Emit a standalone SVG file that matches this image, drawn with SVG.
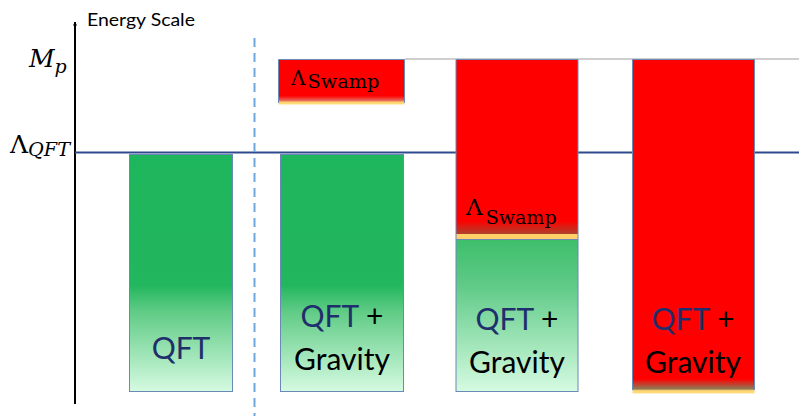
<svg xmlns="http://www.w3.org/2000/svg" width="799" height="416" viewBox="0 0 799 416">
<defs>
<linearGradient id="g1" x1="0" y1="154" x2="0" y2="392" gradientUnits="userSpaceOnUse">
<stop offset="0" stop-color="#1EB65C"/>
<stop offset="0.55" stop-color="#22B65E"/>
<stop offset="0.66" stop-color="#5FCB85"/>
<stop offset="1" stop-color="#D6FBE2"/>
</linearGradient>
<linearGradient id="g3" x1="0" y1="238" x2="0" y2="392" gradientUnits="userSpaceOnUse">
<stop offset="0" stop-color="#3DBE6A"/>
<stop offset="0.3" stop-color="#5ECA86"/>
<stop offset="1" stop-color="#D6FBE2"/>
</linearGradient>
<linearGradient id="r2" x1="0" y1="59" x2="0" y2="105" gradientUnits="userSpaceOnUse">
<stop offset="0" stop-color="#FF0000"/>
<stop offset="0.8" stop-color="#FF0000"/>
<stop offset="0.9" stop-color="#E8645A"/>
<stop offset="0.94" stop-color="#FFD46E"/>
<stop offset="1" stop-color="#FFE08A"/>
</linearGradient>
<linearGradient id="r3" x1="0" y1="59" x2="0" y2="239" gradientUnits="userSpaceOnUse">
<stop offset="0" stop-color="#FF0000"/>
<stop offset="0.9" stop-color="#FF0000"/>
<stop offset="0.97" stop-color="#B0402A"/>
<stop offset="0.975" stop-color="#FFD06A"/>
<stop offset="1" stop-color="#FFD06A"/>
</linearGradient>
<linearGradient id="r4" x1="0" y1="59" x2="0" y2="394" gradientUnits="userSpaceOnUse">
<stop offset="0" stop-color="#FF0000"/>
<stop offset="0.955" stop-color="#FF0000"/>
<stop offset="0.985" stop-color="#8C7A55"/>
<stop offset="0.99" stop-color="#FFD46E"/>
<stop offset="1" stop-color="#FFE08A"/>
</linearGradient>
<marker id="arr" viewBox="0 0 10 10" refX="9" refY="5" markerWidth="4" markerHeight="6" orient="auto" markerUnits="userSpaceOnUse">
<path d="M0,0 L10,5 L0,10 z" fill="#000"/>
</marker>
<style>
.box{stroke:#6A88B8;stroke-width:1}
.lbl{font-family:Lato,"Open Sans",sans-serif;font-size:30px;text-anchor:middle;fill:#000}
.q{fill:#1F2F6B}
.math{font-family:"DejaVu Serif","Liberation Serif",serif;fill:#000}
</style>
</defs>
<g id="axes">
<line x1="75" y1="404" x2="75" y2="22" stroke="#000" stroke-width="2" marker-end="url(#arr)"/>
<text x="87" y="26" font-family="Lato,'Open Sans',sans-serif" font-size="17" textLength="108" lengthAdjust="spacingAndGlyphs" fill="#000">Energy Scale</text>
<text class="math" x="29" y="67" font-size="25" font-style="italic">M<tspan font-size="19" dy="6">p</tspan></text>
<text class="math" x="10" y="153" font-size="25">Λ<tspan font-size="18" dy="3" font-style="italic" textLength="42" lengthAdjust="spacingAndGlyphs">QFT</tspan></text>
</g>
<g id="connectors">
<line x1="405" y1="59" x2="799" y2="59" stroke="#BFBFBF" stroke-width="1.5"/>
<line x1="75" y1="152.5" x2="799" y2="152.5" stroke="#2E4A8C" stroke-width="2"/>
<line x1="254.5" y1="38" x2="254.5" y2="416" stroke="#6FA8DC" stroke-width="2" stroke-dasharray="9,6"/>
</g>
<g id="qft">
<rect class="box" x="129.5" y="154.5" width="103" height="237" fill="url(#g1)"/>
<text class="lbl q" x="181" y="359">QFT</text>
</g>
<g id="swamp1">
<rect x="278.5" y="59.5" width="126" height="45" fill="url(#r2)"/>
<path d="M278.5,103 V59.5 H404.5 V103" fill="none" class="box"/>
<text class="math" x="291" y="85" font-size="20">Λ<tspan font-size="19" dy="3" dx="2" textLength="72" lengthAdjust="spacingAndGlyphs">Swamp</tspan></text>
</g>
<g id="qftgrav1">
<rect class="box" x="280.5" y="154.5" width="123" height="237" fill="url(#g1)"/>
<text class="lbl" x="342" y="327"><tspan class="q">QFT</tspan> +</text>
<text class="lbl" x="342" y="370">Gravity</text>
</g>
<g id="qftgrav2">
<rect x="456" y="59.5" width="122" height="179.5" fill="url(#r3)"/>
<path d="M456,239 V59.5 H578 V239" fill="none" class="box"/>
<rect class="box" x="456" y="239.5" width="122" height="152" fill="url(#g3)"/>
<text class="math" x="466" y="215" font-size="23">Λ<tspan font-size="19" dy="9" dx="3" textLength="71" lengthAdjust="spacingAndGlyphs">Swamp</tspan></text>
<text class="lbl" x="517" y="330"><tspan class="q">QFT</tspan> +</text>
<text class="lbl" x="517" y="373">Gravity</text>
</g>
<g id="qftgrav3">
<rect x="632.5" y="59.5" width="122" height="334" fill="url(#r4)"/>
<path d="M632.5,390 V59.5 H754.5 V390" fill="none" class="box"/>
<text class="lbl" x="693" y="330"><tspan class="q">QFT</tspan> +</text>
<text class="lbl" x="693" y="373">Gravity</text>
</g>
</svg>
